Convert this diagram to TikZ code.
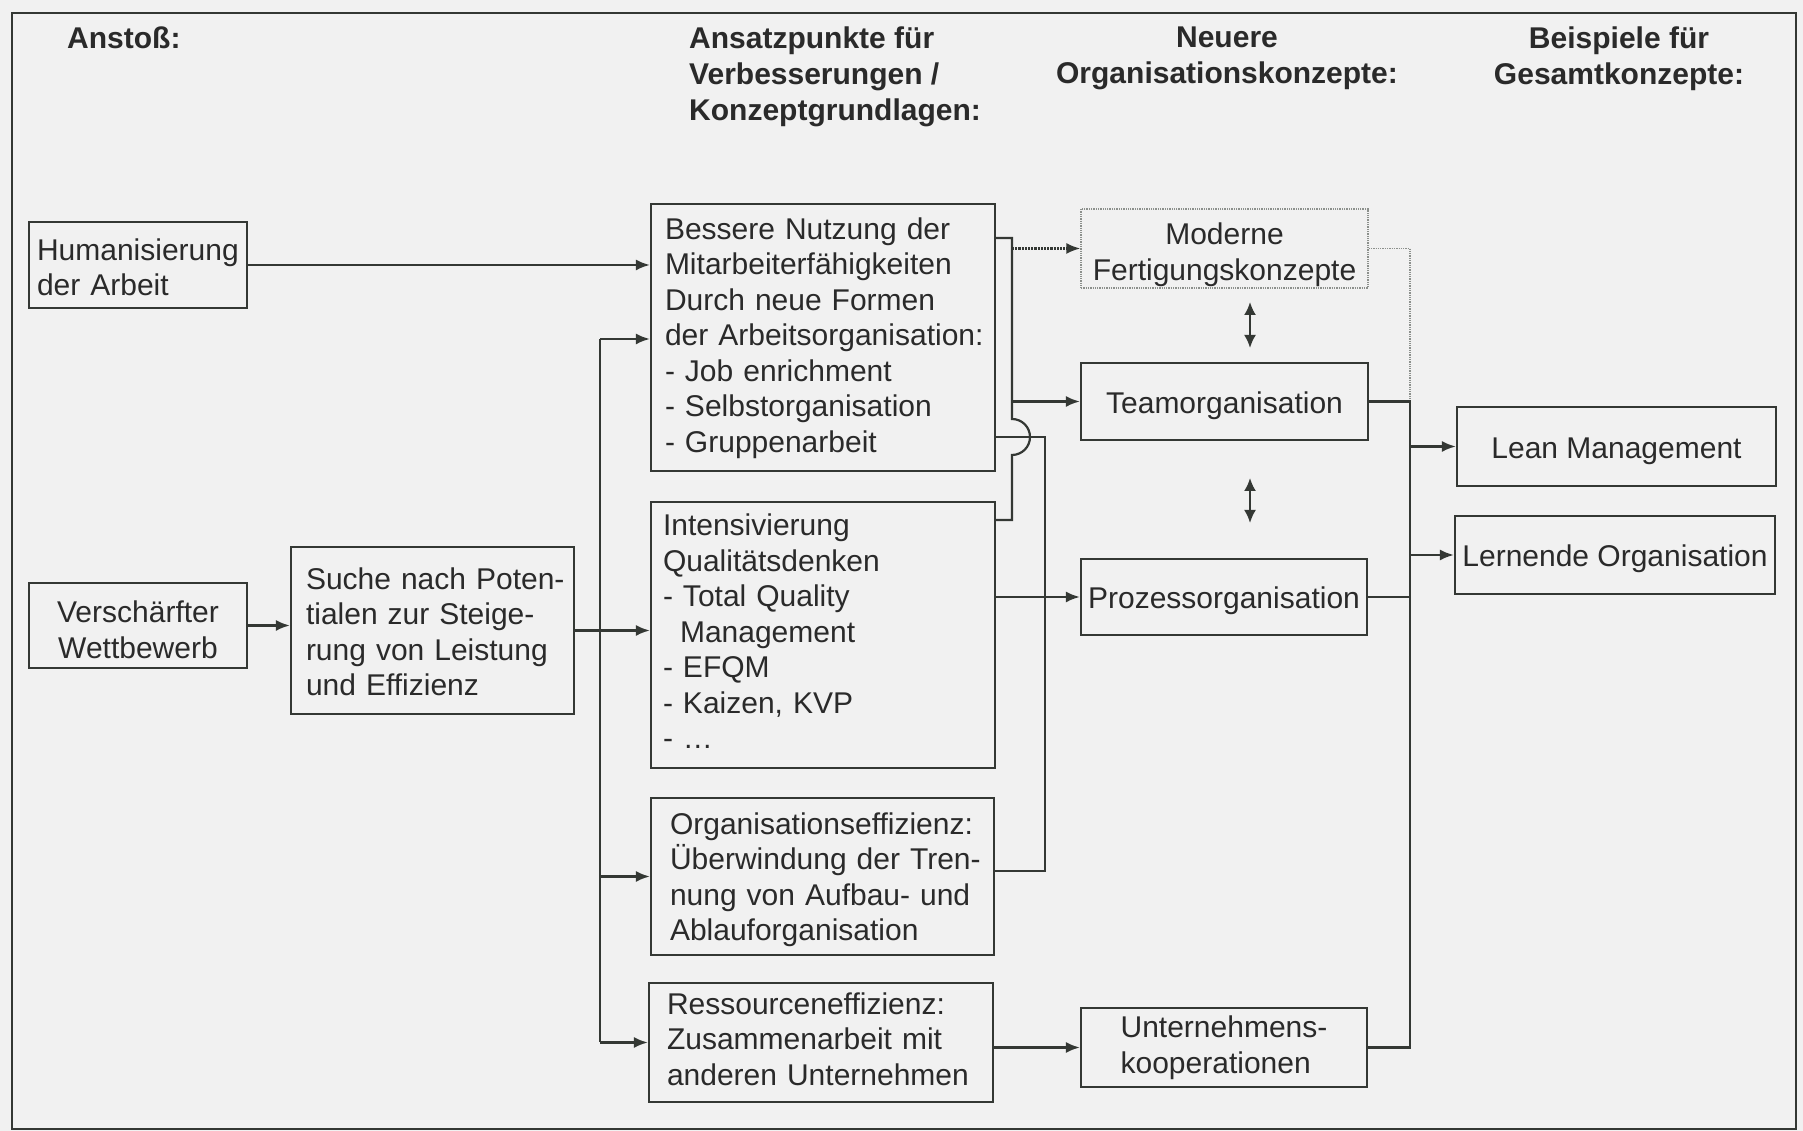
\documentclass[tikz,border=0pt]{standalone}
\usepackage{fontspec}
\setmainfont{Liberation Sans}
\usetikzlibrary{arrows.meta,calc}
\definecolor{paper}{HTML}{F1F1F1}
\definecolor{ink}{HTML}{2A2A2A}
\definecolor{linecol}{HTML}{343834}
\definecolor{faint}{HTML}{8C908C}
% lines of a box text, set without automatic breaks; the optional
% argument adds room above the first line
\newcommand{\boxlines}[2][0pt]{\begin{tabular}{@{}l@{}}\rule{0pt}{\dimexpr24.85pt+#1\relax}#2\end{tabular}}
\begin{document}
\begin{tikzpicture}[x=1pt,y=1pt,
  every node/.style={font=\fontsize{30}{35.5}\selectfont, text=ink},
  blk/.style={draw=linecol, line width=2.2pt, fill=paper, rectangle, inner ysep=0pt},
  lblk/.style={blk, align=left},
  cblk/.style={blk, align=center, inner xsep=2pt},
  oneline/.style={text height=30pt, text depth=6pt},
  head/.style={font=\bfseries\fontsize{30}{36}\selectfont, inner sep=0pt},
  conn/.style={linecol, line width=2.2pt},
  arr/.style={conn, -{Latex[length=14pt,width=11pt]}},
  dblarr/.style={conn, {Latex[length=13pt,width=12pt]}-{Latex[length=13pt,width=12pt]}}
]
% canvas and frame
\useasboundingbox (0,0) rectangle (1803,1131);
\fill[paper] (0,0) rectangle (1803,1131);
\draw[linecol, line width=2.5pt] (12,2) rectangle (1796,1118);

% column headings
\node[head, anchor=north west] (h1) at (67,1104) {Anstoß:};
\node[head, anchor=north west, align=left] (h2) at (689,1104) {Ansatzpunkte für\\Verbesserungen /\\Konzeptgrundlagen:};
\node[head, anchor=north, align=center] (h3) at (1227,1104) {Neuere\\Organisationskonzepte:};
\node[head, anchor=north, align=center] (h4) at (1619,1104) {Beispiele für\\Gesamtkonzepte:};

% triggers
\node[lblk, minimum width=218pt, minimum height=86pt, inner xsep=8pt, text width=202pt] (hum) at (138,866) {\boxlines[12pt]{Humanisierung\\der Arbeit}};
\node[cblk, minimum width=218pt, minimum height=85pt] (vers) at (138,505.5) {\rule{0pt}{30pt}Verschärfter\\Wettbewerb};
\node[lblk, minimum width=283pt, minimum height=167pt, inner xsep=15pt, text width=253pt] (suche) at (432.5,500.5) {\boxlines[10pt]{Suche nach Poten-\\tialen zur Steige-\\rung von Leistung\\und Effizienz}};

% starting points for improvements
\node[lblk, minimum width=344pt, minimum height=267pt, inner xsep=14pt, text width=316pt] (bess) at (823,793.5) {\boxlines[2pt]{Bessere Nutzung der\\Mitarbeiterfähigkeiten\\Durch neue Formen\\der Arbeitsorganisation:\\- Job enrichment\\- Selbstorganisation\\- Gruppenarbeit}};
\node[lblk, minimum width=344pt, minimum height=266pt, inner xsep=12pt, text width=320pt] (intens) at (823,496) {\boxlines{Intensivierung\\Qualitätsdenken\\- Total Quality\\\hspace*{17pt}Management\\- EFQM\\- Kaizen, KVP\\- …}};
\node[lblk, minimum width=343pt, minimum height=157pt, inner xsep=19pt, text width=305pt] (orgeff) at (822.5,254.5) {\boxlines[8pt]{Organisationseffizienz:\\Überwindung der Tren-\\nung von Aufbau- und\\Ablauforganisation}};
\node[lblk, minimum width=344pt, minimum height=119pt, inner xsep=18pt, text width=308pt] (ress) at (821,88.5) {\boxlines{Ressourceneffizienz:\\Zusammenarbeit mit\\anderen Unternehmen}};

% newer organisation concepts
\node[cblk, draw=faint, line width=1.3pt, densely dotted, minimum width=287pt, minimum height=79pt] (mod) at (1224.5,882.5) {\rule{0pt}{34pt}Moderne\\Fertigungskonzepte};
\node[cblk, oneline, minimum width=287pt, minimum height=77pt] (team) at (1224.5,729.5) {Teamorganisation};
\node[blk, oneline, inner xsep=2pt, minimum width=286pt, minimum height=76pt] (proz) at (1224,534) {Prozessorganisation};
\node[blk, align=left, inner xsep=2pt, minimum width=286pt, minimum height=79pt] (unt) at (1224,83.5) {Unternehmens-\\kooperationen};

% overall concepts
\node[cblk, oneline, minimum width=319pt, minimum height=79pt] (lean) at (1616.5,684.5) {Lean Management};
\node[cblk, oneline, minimum width=320pt, minimum height=78pt] (lern) at (1615,576) {Lernende Organisation};

% junction points
\coordinate (t1) at (600,792);
\coordinate (ja) at (1012,893);
\coordinate (bumpc) at (1012,694);
\coordinate (jb) at (1012,611);
\coordinate (kb) at (1045,694);
\coordinate (kc) at (1045,260);
\coordinate (rx) at (1410,0);
\coordinate (d1a) at (1250,829);
\coordinate (d1b) at (1250,783);
\coordinate (d2a) at (1250,653);
\coordinate (d2b) at (1250,608);

% left-hand connectors
\draw[arr] (hum.east) -- (hum.east -| bess.west);
\draw[arr] (vers.east) -- (vers.east -| suche.west);
\draw[arr] (suche.east) -- (suche.east -| intens.west);
\draw[conn] (t1) -- (t1 |- ress.west);
\draw[arr] (t1) -- (t1 -| bess.west);
\draw[arr] (t1 |- orgeff.west) -- (orgeff.west);
\draw[arr] (t1 |- ress.west) -- (ress.west);

% middle connectors
\draw[conn] (bess.east |- ja) -- (ja) -- ($(bumpc)+(0,18)$)
  arc[start angle=90, end angle=-90, radius=18] -- (jb) -- (intens.east |- jb);
\draw[arr, densely dotted] (ja |- mod.west) -- (mod.west);
\draw[arr] (ja |- team.west) -- (team.west);
\draw[conn] (bess.east |- kb) -- (kb) -- (kc) -- (orgeff.east |- kc);
\draw[arr] (intens.east |- proz.west) -- (proz.west);
\draw[arr] (ress.east |- unt.west) -- (unt.west);
\draw[dblarr] (d1a) -- (d1b);
\draw[dblarr] (d2a) -- (d2b);

% right-hand connectors
\draw[faint, line width=1.3pt, densely dotted] (mod.east) -- (mod.east -| rx) -- (team.east -| rx);
\draw[conn] (team.east) -- (team.east -| rx) -- (unt.east -| rx) -- (unt.east);
\draw[conn] (proz.east) -- (proz.east -| rx);
\draw[arr] (lean.west -| rx) -- (lean.west);
\draw[arr] (lern.west -| rx) -- (lern.west);
\end{tikzpicture}
\end{document}
